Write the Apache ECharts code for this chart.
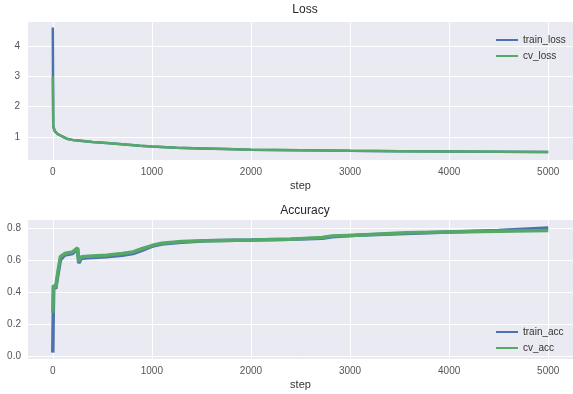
<!DOCTYPE html>
<html>
<head>
<meta charset="utf-8">
<script src="https://cdn.jsdelivr.net/npm/echarts@6/dist/echarts.min.js"></script>
<style>
  html, body { margin: 0; padding: 0; background: #fff; }
  #main { width: 573px; height: 394px; }
</style>
</head>
<body>
<div id="main"></div>
<script>
// loss curves
var lossSteps = [0, 5, 20, 50, 100, 140, 200, 270, 400, 545, 700, 880, 1000, 1250, 1500, 1750, 2000, 2500, 3000, 3500, 4000, 4500, 5000];
var trainLoss = [4.6, 1.35, 1.2, 1.1, 1.02, 0.95, 0.91, 0.88, 0.84, 0.81, 0.77, 0.72, 0.69, 0.65, 0.63, 0.61, 0.59, 0.57, 0.55, 0.54, 0.53, 0.52, 0.51];
var cvLoss = [3.0, 1.35, 1.2, 1.1, 1.02, 0.95, 0.91, 0.89, 0.84, 0.81, 0.77, 0.72, 0.69, 0.65, 0.63, 0.61, 0.59, 0.57, 0.55, 0.54, 0.53, 0.52, 0.51];

// accuracy curves
var accSteps = [0, 5, 10, 30, 50, 77, 120, 200, 250, 262, 290, 400, 540, 700, 810, 900, 1000, 1100, 1300, 1550, 2000, 2400, 2720, 2820, 3060, 3560, 4000, 4500, 5000];
var trainAcc = [0.02, 0.27, 0.44, 0.42, 0.50, 0.60, 0.63, 0.64, 0.67, 0.58, 0.61, 0.615, 0.62, 0.63, 0.64, 0.66, 0.685, 0.70, 0.71, 0.72, 0.725, 0.73, 0.735, 0.745, 0.755, 0.765, 0.775, 0.785, 0.80];
var cvAcc = [0.27, 0.44, 0.45, 0.43, 0.52, 0.62, 0.64, 0.65, 0.675, 0.59, 0.62, 0.625, 0.63, 0.64, 0.65, 0.67, 0.69, 0.705, 0.715, 0.72, 0.725, 0.73, 0.74, 0.75, 0.755, 0.77, 0.775, 0.78, 0.785];

// ticks
var stepTicks = [0, 1000, 2000, 3000, 4000, 5000];
var lossTicks = [1, 2, 3, 4];
var accTicks = [0, 0.2, 0.4, 0.6, 0.8];

function pairs(xs, ys) {
  return xs.map(function (x, i) { return [x, ys[i]]; });
}

var font = 'Liberation Sans, Arial, sans-serif';
var blue = '#4C72B0', green = '#55A868';

function xAxisOf(idx) {
  return {
    type: 'value', gridIndex: idx, min: -250, max: 5250,
    name: 'step', nameLocation: 'middle', nameGap: 20,
    nameTextStyle: { color: '#333', fontSize: 11, fontFamily: font },
    axisLine: { show: false },
    axisTick: { show: false, customValues: stepTicks },
    axisLabel: { customValues: stepTicks, color: '#555', fontSize: 10, fontFamily: font, margin: 7,
      formatter: function (v) { return String(v); } },
    splitLine: { show: true, lineStyle: { color: '#fff', width: 1 } }
  };
}

var chart = echarts.init(document.getElementById('main'));
var option = {
  animation: false,
  title: [
    { text: 'Loss', left: 300, top: -1, textAlign: 'center',
      textStyle: { fontSize: 12, fontWeight: 'normal', color: '#262626', fontFamily: font } },
    { text: 'Accuracy', left: 300, top: 200, textAlign: 'center',
      textStyle: { fontSize: 12, fontWeight: 'normal', color: '#262626', fontFamily: font } }
  ],
  grid: [
    { left: 28, right: 0, top: 22, height: 138, show: true, backgroundColor: '#EAEAF2', borderWidth: 0 },
    { left: 28, right: 0, top: 220, height: 139, show: true, backgroundColor: '#EAEAF2', borderWidth: 0 }
  ],
  legend: [
    { data: ['train_loss', 'cv_loss'], orient: 'vertical', left: 491, top: 29,
      icon: 'rect', itemWidth: 22, itemHeight: 2, itemGap: 4,
      textStyle: { color: '#333', fontSize: 10, fontFamily: font, lineHeight: 12 } },
    { data: ['train_acc', 'cv_acc'], orient: 'vertical', left: 491, top: 321,
      icon: 'rect', itemWidth: 22, itemHeight: 2, itemGap: 4,
      textStyle: { color: '#333', fontSize: 10, fontFamily: font, lineHeight: 12 } }
  ],
  xAxis: [xAxisOf(0), xAxisOf(1)],
  yAxis: [
    { type: 'value', gridIndex: 0, min: 0.25, max: 4.78,
      axisLine: { show: false },
      axisTick: { show: false, customValues: lossTicks },
      axisLabel: { customValues: lossTicks, color: '#555', fontSize: 10, fontFamily: font, margin: 8 },
      splitLine: { show: true, lineStyle: { color: '#fff', width: 1 } } },
    { type: 'value', gridIndex: 1, min: -0.02, max: 0.85,
      axisLine: { show: false },
      axisTick: { show: false, customValues: accTicks },
      axisLabel: { customValues: accTicks, color: '#555', fontSize: 10, fontFamily: font, margin: 7,
        formatter: function (v) { return v.toFixed(1); } },
      splitLine: { show: true, lineStyle: { color: '#fff', width: 1 } } }
  ],
  series: [
    { name: 'train_loss', type: 'line', xAxisIndex: 0, yAxisIndex: 0, showSymbol: false,
      data: pairs(lossSteps, trainLoss), lineStyle: { color: blue, width: 2.5 }, itemStyle: { color: blue } },
    { name: 'cv_loss', type: 'line', xAxisIndex: 0, yAxisIndex: 0, showSymbol: false,
      data: pairs(lossSteps, cvLoss), lineStyle: { color: green, width: 2.5 }, itemStyle: { color: green } },
    { name: 'train_acc', type: 'line', xAxisIndex: 1, yAxisIndex: 1, showSymbol: false,
      data: pairs(accSteps, trainAcc), lineStyle: { color: blue, width: 3.5 }, itemStyle: { color: blue } },
    { name: 'cv_acc', type: 'line', xAxisIndex: 1, yAxisIndex: 1, showSymbol: false,
      data: pairs(accSteps, cvAcc), lineStyle: { color: green, width: 3.5 }, itemStyle: { color: green } }
  ]
};
chart.setOption(option);
</script>
</body>
</html>
